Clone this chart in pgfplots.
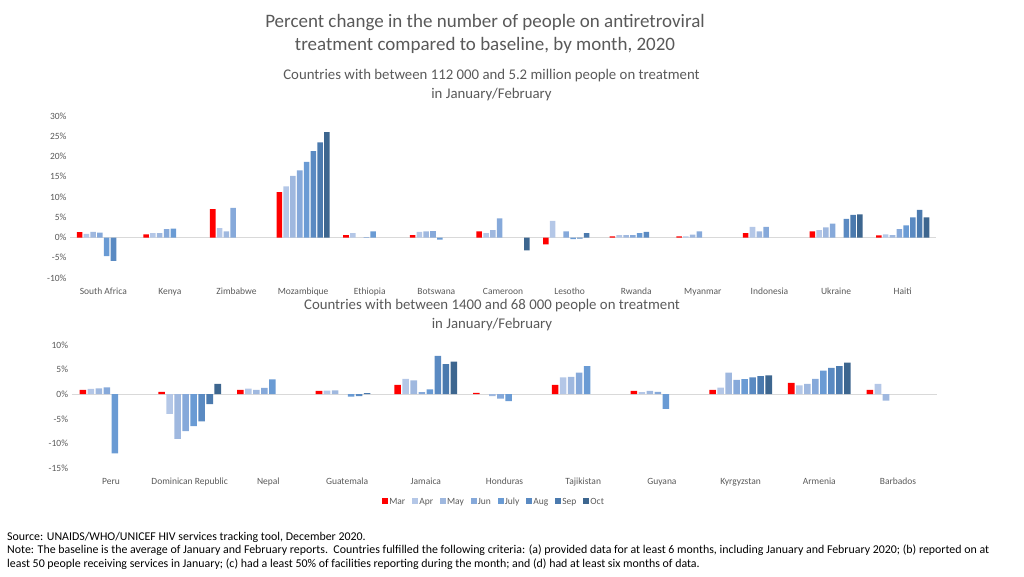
\documentclass[border=0pt]{standalone}
\usepackage{pgfplots}
\pgfplotsset{compat=1.18}
\usepackage{pgfplotstable}
\usepackage{fontspec}
\setmainfont{Carlito}
\definecolor{cMar}{HTML}{FF0000}
\definecolor{cApr}{HTML}{B4C7E7}
\definecolor{cMay}{HTML}{9FB8DF}
\definecolor{cJun}{HTML}{86A9DA}
\definecolor{cJul}{HTML}{6A9BD4}
\definecolor{cAug}{HTML}{5A8AC2}
\definecolor{cSep}{HTML}{4B7AAE}
\definecolor{cOct}{HTML}{3D668F}
\definecolor{tgray}{HTML}{595959}
\definecolor{zline}{HTML}{D9D9D9}

\pgfplotstableread{
x Mar Apr May Jun Jul Aug Sep Oct
0 1.3 0.9 1.4 1.2 -4.6 -5.8 nan nan
1 0.8 1.1 1.1 2.1 2.2 nan nan nan
2 7.0 2.3 1.5 7.3 nan nan nan nan
3 11.2 12.6 15.2 16.6 18.7 21.3 23.5 26.0
4 0.6 1.1 nan 0.1 1.5 nan nan nan
5 0.6 1.4 1.5 1.6 -0.5 nan nan nan
6 1.5 1.1 1.8 4.7 nan nan nan -3.2
7 -1.7 4.1 nan 1.5 -0.4 -0.3 1.1 nan
8 0.3 0.6 0.6 0.6 1.1 1.4 nan nan
9 0.3 0.3 0.7 1.5 nan nan nan nan
10 1.1 2.6 1.5 2.6 nan nan nan nan
11 1.5 1.8 2.5 3.4 nan 4.6 5.6 5.7
12 0.5 0.8 0.6 2.1 3.0 5.0 6.8 5.0
}\topdata

\pgfplotstableread{
x Mar Apr May Jun Jul Aug Sep Oct
0 0.9 1.1 1.2 1.4 -12.0 nan nan nan
1 0.5 -4.0 -9.1 -7.5 -6.5 -5.5 -2.0 2.1
2 0.9 1.15 0.9 1.3 3.0 nan nan nan
3 0.7 0.75 0.8 nan -0.5 -0.4 0.2 nan
4 1.9 3.1 2.8 0.4 1.0 7.8 6.1 6.6
5 0.25 nan -0.4 -0.9 -1.4 nan nan nan
6 1.9 3.4 3.5 4.4 5.7 nan nan nan
7 0.7 0.4 0.7 0.5 -3.0 nan nan nan
8 0.9 1.35 4.4 2.9 3.05 3.4 3.7 3.85
9 2.3 1.8 2.1 3.1 4.8 5.35 5.7 6.4
10 0.9 2.1 -1.3 nan nan nan nan nan
}\botdata

\pgfplotsset{
  common/.style={
    scale only axis,
    anchor=south west,
    axis line style={draw=none},
    tick style={draw=none},
    tick label style={font=\fontsize{9.5}{11}\selectfont, text=tgray},
    xticklabel style={text height=6.5pt, text depth=2pt},
    extra y ticks={0},
    extra y tick labels={},
    extra y tick style={grid=major, major grid style={color=zline, line width=0.9pt}},
    clip=false,
  },
  bw/.style={ybar, bar width=0.083, draw=none},
}

\begin{document}
\begin{tikzpicture}[x=1pt,y=1pt]
\useasboundingbox (0,0) rectangle (1024,-576);

\node[font=\fontsize{19}{23}\selectfont, text=tgray, align=center] at (485,-34)
  {Percent change in the number of people on antiretroviral\\treatment compared to baseline, by month, 2020};
\node[font=\fontsize{14.8}{19}\selectfont, text=tgray, align=center] at (491.5,-85)
  {Countries with between 112 000 and 5.2 million people on treatment\\in January/February};
\node[font=\fontsize{14.8}{19}\selectfont, text=tgray, align=center] at (492,-315)
  {Countries with between 1400 and 68 000 people on treatment\\in January/February};

\begin{axis}[common,
  at={(70pt,-278pt)}, width=866pt, height=162pt,
  xticklabel style={yshift=-6pt},
  xmin=-0.5, xmax=12.5, ymin=-10, ymax=30,
  xtick={0,...,12},
  xticklabels={South Africa,Kenya,Zimbabwe,Mozambique,Ethiopia,Botswana,Cameroon,Lesotho,Rwanda,Myanmar,Indonesia,Ukraine,Haiti},
  ytick={-10,-5,0,5,10,15,20,25,30},
  yticklabels={-10\%,-5\%,0\%,5\%,10\%,15\%,20\%,25\%,30\%},
]
\addplot[bw, bar shift=-0.357, fill=cMar] table[x=x,y=Mar]{\topdata};
\addplot[bw, bar shift=-0.255, fill=cApr] table[x=x,y=Apr]{\topdata};
\addplot[bw, bar shift=-0.153, fill=cMay] table[x=x,y=May]{\topdata};
\addplot[bw, bar shift=-0.051, fill=cJun] table[x=x,y=Jun]{\topdata};
\addplot[bw, bar shift=0.051, fill=cJul] table[x=x,y=Jul]{\topdata};
\addplot[bw, bar shift=0.153, fill=cAug] table[x=x,y=Aug]{\topdata};
\addplot[bw, bar shift=0.255, fill=cSep] table[x=x,y=Sep]{\topdata};
\addplot[bw, bar shift=0.357, fill=cOct] table[x=x,y=Oct]{\topdata};
\end{axis}

\begin{axis}[common,
  at={(71.6pt,-468pt)}, width=865.8pt, height=123pt,
  xticklabel style={yshift=-6pt},
  xmin=-0.5, xmax=10.5, ymin=-15, ymax=10,
  xtick={0,...,10},
  xticklabels={Peru,Dominican Republic,Nepal,Guatemala,Jamaica,Honduras,Tajikistan,Guyana,Kyrgyzstan,Armenia,Barbados},
  ytick={-15,-10,-5,0,5,10},
  yticklabels={-15\%,-10\%,-5\%,0\%,5\%,10\%},
  legend columns=8,
  legend style={at={(0.488,-0.28)}, anchor=center, draw=none, fill=none,
    font=\fontsize{9.5}{11}\selectfont, text=tgray,
    /tikz/every even column/.append style={column sep=5pt},
    /tikz/every odd column/.append style={column sep=-1pt},
    inner sep=0pt},
  legend image code/.code={\fill[#1] (0pt,-1.5pt) rectangle (6pt,4.5pt);},
]
\addplot[bw, bar shift=-0.357, fill=cMar] table[x=x,y=Mar]{\botdata};
\addplot[bw, bar shift=-0.255, fill=cApr] table[x=x,y=Apr]{\botdata};
\addplot[bw, bar shift=-0.153, fill=cMay] table[x=x,y=May]{\botdata};
\addplot[bw, bar shift=-0.051, fill=cJun] table[x=x,y=Jun]{\botdata};
\addplot[bw, bar shift=0.051, fill=cJul] table[x=x,y=Jul]{\botdata};
\addplot[bw, bar shift=0.153, fill=cAug] table[x=x,y=Aug]{\botdata};
\addplot[bw, bar shift=0.255, fill=cSep] table[x=x,y=Sep]{\botdata};
\addplot[bw, bar shift=0.357, fill=cOct] table[x=x,y=Oct]{\botdata};
\legend{Mar,Apr,May,Jun,July,Aug,Sep,Oct}
\end{axis}

\node[anchor=west, font=\fontsize{11.9}{13.5}\selectfont, align=left, inner sep=0pt] at (7,-550.5)
  {Source: UNAIDS/WHO/UNICEF HIV services tracking tool, December 2020.\\
   Note: The baseline is the average of January and February reports.\ \ Countries fulfilled the following criteria: (a) provided data for at least 6 months, including January and February 2020; (b) reported on at\\
   least 50 people receiving services in January; (c) had a least 50\% of facilities reporting during the month; and (d) had at least six months of data.};
\end{tikzpicture}
\end{document}
